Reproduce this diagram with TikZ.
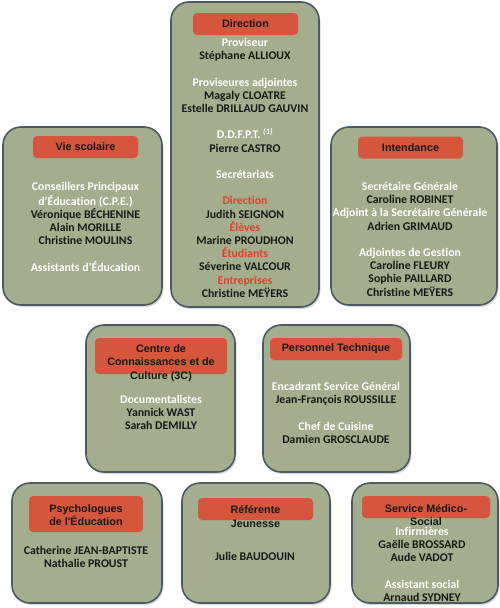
\documentclass[tikz,border=0pt]{standalone}
\usepackage{fontspec}
\setmainfont{Carlito}[Ligatures=NoCommon]
\newfontfamily\headfont{Liberation Sans}
\usetikzlibrary{shadows}

\definecolor{boxgreen}{HTML}{A4AD8D}
\definecolor{boxedge}{HTML}{4E5A63}
\definecolor{headred}{HTML}{D6553D}
\definecolor{secred}{HTML}{E3402B}
\newcommand{\role}[1]{\textcolor{white}{#1}}
\newcommand{\sect}[1]{\textcolor{secred}{#1}}

\begin{document}
\begin{tikzpicture}[x=1pt,y=-1pt,
  unit/.style={draw=boxedge,line width=1.6pt,fill=boxgreen,rounded corners=18pt,inner sep=0,
    drop shadow={shadow xshift=1.5pt,shadow yshift=-2pt,opacity=0.3}},
  head/.style={fill=headred,rounded corners=4pt,inner sep=0},
  title/.style={font=\headfont\bfseries\fontsize{10.8}{13.5}\selectfont,align=center,text=black!90,inner sep=0},
  staff/.style={font=\bfseries\fontsize{11.8}{13.2}\selectfont,align=center,anchor=north,inner sep=0,text=black!90}]

\fill[white] (0,0) rectangle (500,608);
\useasboundingbox (0,0) rectangle (500,608);

% top row
\node[unit,minimum width=148,minimum height=305] (dir) at (245,154.5) {};
\node[head,minimum width=105,minimum height=22] (dirhd) at (245.5,24) {};
\node[title] (dirti) at (dirhd) {Direction};
\node[staff] (dirtx) at (245,37) {\strut\role{Proviseur}\\ Stéphane ALLIOUX\\[13.2pt]
  \role{Proviseures adjointes}\\ Magaly CLOATRE\\ Estelle DRILLAUD GAUVIN\\[13.2pt]
  \role{D.D.F.P.T. \textsuperscript{\itshape(1)}}\\ Pierre CASTRO\\[13.2pt]
  \role{Secrétariats}\\[13.2pt]
  \sect{Direction}\\ Judith SEIGNON\\ \sect{Élèves}\\ Marine PROUDHON\\
  \sect{Étudiants}\\ Séverine VALCOUR\\ \sect{Entreprises}\\ Christine MEŸERS};

\node[unit,minimum width=159,minimum height=178] (vie) at (82.5,216) {};
\node[head,minimum width=105,minimum height=22] (viehd) at (85.5,147) {};
\node[title] (vieti) at (viehd) {Vie scolaire};
\node[staff] (vietx) at (85.5,181) {\strut\role{Conseillers Principaux}\\ \role{d’Éducation (C.P.E.)}\\
  Véronique BÉCHENINE\\ Alain MORILLE\\ Christine MOULINS\\[13.2pt]
  \role{Assistants d’Éducation}};

\node[unit,minimum width=166,minimum height=178] (int) at (414,216) {};
\node[head,minimum width=105,minimum height=22] (inthd) at (410.5,147.5) {};
\node[title] (intti) at (inthd) {Intendance};
\node[staff] (inttx) at (410,181) {\strut\role{Secrétaire Générale}\\ Caroline ROBINET\\
  \role{Adjoint à la Secrétaire Générale}\\ Adrien GRIMAUD\\[13.2pt]
  \role{Adjointes de Gestion}\\ Caroline FLEURY\\ Sophie PAILLARD\\ Christine MEŸERS};

% middle row
\node[unit,minimum width=149,minimum height=147] (ccc) at (160.5,398.5) {};
\node[head,minimum width=132,minimum height=36] (ccchd) at (161,356) {};
\node[title] (cccti) at (161,363) {Centre de\\ Connaissances et de\\ Culture (3C)};
\node[staff] (ccctx) at (161,394) {\strut\role{Documentalistes}\\ Yannick WAST\\ Sarah DEMILLY};

\node[unit,minimum width=147,minimum height=147] (pers) at (336.5,398.5) {};
\node[head,minimum width=132,minimum height=22] (pershd) at (336,349) {};
\node[title] (persti) at (pershd) {Personnel Technique};
\node[staff] (perstx) at (336,381) {\strut\role{Encadrant Service Général}\\ Jean-François ROUSSILLE\\[13.2pt]
  \role{Chef de Cuisine}\\ Damien GROSCLAUDE};

% bottom row
\node[unit,minimum width=150,minimum height=120] (psy) at (87,543) {};
\node[head,minimum width=114,minimum height=36] (psyhd) at (86,514) {};
\node[title] (psyti) at (86,515) {Psychologues\\ de l'Éducation};
\node[staff] (psytx) at (86,545) {\strut Catherine JEAN-BAPTISTE\\ Nathalie PROUST};

\node[unit,minimum width=148,minimum height=120] (ref) at (256,543) {};
\node[head,minimum width=115,minimum height=22] (refhd) at (255.5,509) {};
\node[title] (refti) at (255.5,516.5) {Référente\\ Jeunesse};
\node[staff] (reftx) at (255,551) {\strut Julie BAUDOUIN};

\node[unit,minimum width=146,minimum height=120] (sms) at (425,543) {};
\node[head,minimum width=128,minimum height=22] (smshd) at (426,507) {};
\node[title] (smsti) at (426,515) {Service Médico-\\ Social};
\node[staff] (smstx) at (422,526) {\strut\role{Infirmières}\\ Gaëlle BROSSARD\\ Aude VADOT\\[13.2pt]
  \role{Assistant social}\\ Arnaud SYDNEY};

\end{tikzpicture}
\end{document}
